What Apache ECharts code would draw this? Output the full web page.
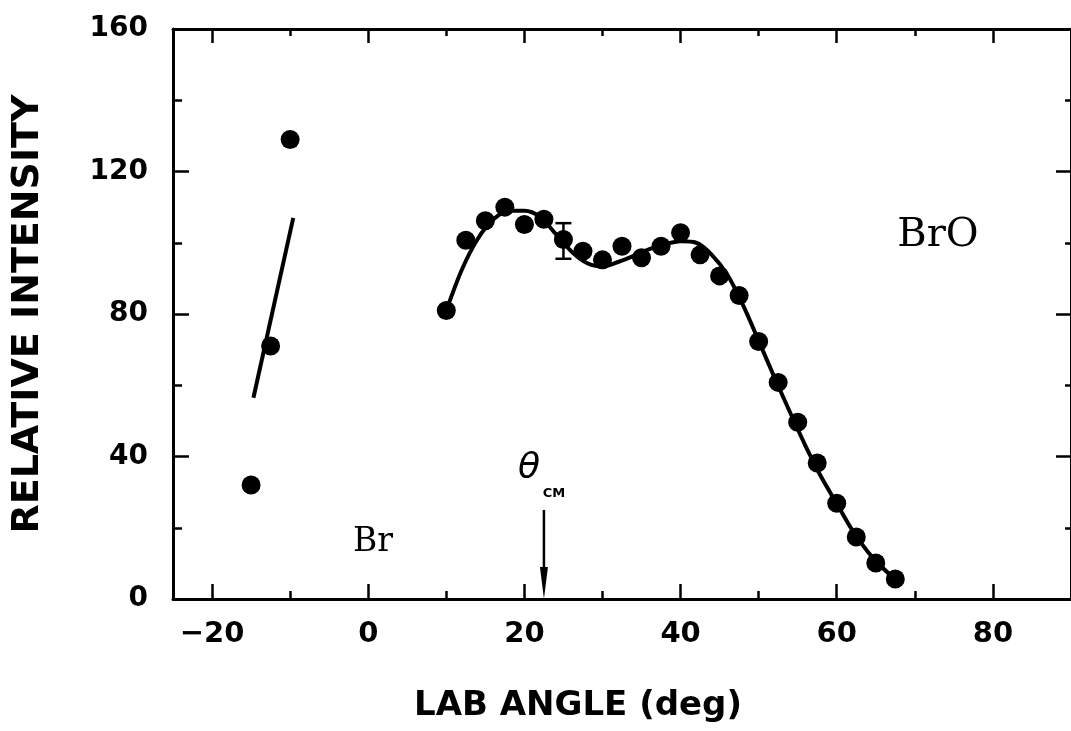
<!DOCTYPE html>
<html>
<head>
<meta charset="utf-8">
<script src="https://cdn.jsdelivr.net/npm/echarts@6/dist/echarts.min.js"></script>
<style>
html,body{margin:0;padding:0;background:#fff;}
#chart{width:1071px;height:731px;}
</style>
</head>
<body>
<div id="chart"></div>
<script>
// ---- data ----
const xMajorTicks = [-20, 0, 20, 40, 60, 80];
const xMinorTicks = [-10, 10, 30, 50, 70];

// BrO measured points (lab angle, relative intensity)
const broAngles = [10, 12.5, 15, 17.5, 20, 22.5, 25, 27.5, 30, 32.5, 35, 37.5, 40, 42.5, 45, 47.5, 50, 52.5, 55, 57.5, 60, 62.5, 65, 67.5];
const broValues = [81, 100.7, 106.2, 110, 105.1, 106.6, 100.9, 97.6, 95.2, 99, 95.8, 99, 102.8, 96.6, 90.7, 85.2, 72.3, 60.8, 49.6, 38.2, 26.9, 17.4, 10.1, 5.6];

// BrO fitted curve
const fitAngles = [10, 12, 14, 16, 18, 20, 22, 24, 26, 28, 30, 32, 34, 36, 38, 40, 42, 44, 46, 48, 50, 52, 54, 56, 58, 60, 62, 64, 66, 67.5];
const fitValues = [81, 92.5, 101, 106.5, 109, 109, 107.3, 102.5, 97.6, 94.3, 93.3, 94.6, 96.3, 98.2, 99.6, 100.4, 100, 96.6, 91, 82.5, 72.5, 62.3, 52.5, 43, 34.3, 26.8, 19.3, 13.2, 8.5, 5.6];

// Br measured points
const brAngles = [-15, -12.5, -10];
const brValues = [32, 71, 129];

// Br fitted line
const brFitAngles = [-14.7, -9.6];
const brFitValues = [56.5, 107];

// representative error bar
const errAngle = [25];
const errLow = [95.5];
const errHigh = [105.5];

// theta_CM marker
const thetaCM = 22.5;
const arrowTop = 25;

const zip = (a, b) => a.map((v, i) => [v, b[i]]);

const chart = echarts.init(document.getElementById('chart'), null, {renderer: 'canvas'});

const sans = 'DejaVu Sans';
const serif = "'DejaVu Serif', 'Liberation Serif', serif";
const axisLine = {show: true, onZero: false, lineStyle: {color: '#000', width: 3}};
const tickStyle = {color: '#000', width: 2.5};

function xAx(pos, ticks, len, opts) {
  return Object.assign({
    type: 'value', gridIndex: 0, min: -25, max: 90, position: pos,
    axisLine: {show: false, onZero: false},
    axisTick: {show: true, inside: true, length: len, customValues: ticks, lineStyle: tickStyle},
    axisLabel: {show: false},
    splitLine: {show: false}
  }, opts || {});
}

const option = {
  backgroundColor: '#fff',
  animation: false,
  grid: {left: 173, top: 29, width: 901, height: 570, containLabel: false},
  xAxis: [
    xAx('bottom', xMajorTicks, 15, {
      axisLine: axisLine,
      axisLabel: {
        show: true, customValues: xMajorTicks, margin: 21,
        color: '#000', fontFamily: sans, fontWeight: 'bold', fontSize: 29,
        formatter: v => String(v).replace('-', '\u2212')
      },
      name: 'LAB ANGLE (deg)', nameLocation: 'middle', nameGap: 90,
      nameTextStyle: {color: '#000', fontFamily: sans, fontWeight: 'bold', fontSize: 34, padding: [0, 88, 0, 0]}
    }),
    xAx('bottom', xMinorTicks, 8),
    xAx('top', xMajorTicks, 14, {axisLine: axisLine}),
    xAx('top', xMinorTicks, 7)
  ],
  yAxis: [
    {
      type: 'value', min: 0, max: 160, interval: 40, position: 'left',
      axisLine: axisLine,
      axisTick: {show: true, inside: true, length: 16, lineStyle: tickStyle},
      minorTick: {show: true, splitNumber: 2, length: 9, lineStyle: tickStyle},
      axisLabel: {margin: 25, color: '#000', fontFamily: sans, fontWeight: 'bold', fontSize: 28},
      splitLine: {show: false},
      name: 'RELATIVE INTENSITY', nameLocation: 'middle', nameRotate: 90, nameGap: 126,
      nameTextStyle: {color: '#000', fontFamily: sans, fontWeight: 'bold', fontSize: 38}
    },
    {
      type: 'value', min: 0, max: 160, interval: 40, position: 'right',
      axisLine: axisLine,
      axisTick: {show: true, inside: true, length: 15, lineStyle: tickStyle},
      minorTick: {show: true, splitNumber: 2, length: 6, lineStyle: tickStyle},
      axisLabel: {show: false},
      splitLine: {show: false}
    }
  ],
  series: [
    {
      name: 'BrO fit', type: 'line', xAxisIndex: 0, yAxisIndex: 0,
      data: zip(fitAngles, fitValues), smooth: 0.3, showSymbol: false,
      lineStyle: {color: '#000', width: 4}, z: 2
    },
    {
      name: 'Br fit', type: 'line', xAxisIndex: 0, yAxisIndex: 0,
      data: zip(brFitAngles, brFitValues), showSymbol: false,
      lineStyle: {color: '#000', width: 4}, z: 2
    },
    {
      name: 'BrO', type: 'scatter', xAxisIndex: 0, yAxisIndex: 0,
      data: zip(broAngles, broValues), symbol: 'circle', symbolSize: 19,
      itemStyle: {color: '#000', opacity: 1}, z: 3
    },
    {
      name: 'Br', type: 'scatter', xAxisIndex: 0, yAxisIndex: 0,
      data: zip(brAngles, brValues), symbol: 'circle', symbolSize: 19,
      itemStyle: {color: '#000', opacity: 1}, z: 3
    },
    {
      name: 'error', type: 'custom', xAxisIndex: 0, yAxisIndex: 0,
      data: errAngle.map((a, i) => [a, errLow[i], errHigh[i]]),
      encode: {x: 0, y: [1, 2]},
      renderItem: function (params, api) {
        const x = api.value(0);
        const lo = api.coord([x, api.value(1)]);
        const hi = api.coord([x, api.value(2)]);
        const st = {stroke: '#000', lineWidth: 2.5};
        return {type: 'group', children: [
          {type: 'line', shape: {x1: lo[0], y1: lo[1], x2: hi[0], y2: hi[1]}, style: st},
          {type: 'line', shape: {x1: lo[0] - 8, y1: lo[1], x2: lo[0] + 8, y2: lo[1]}, style: st},
          {type: 'line', shape: {x1: hi[0] - 8, y1: hi[1], x2: hi[0] + 8, y2: hi[1]}, style: st}
        ]};
      },
      z: 4
    },
    {
      name: 'thetaCM', type: 'custom', xAxisIndex: 0, yAxisIndex: 0,
      data: [[thetaCM, arrowTop, 0]],
      encode: {x: 0, y: [1, 2]},
      renderItem: function (params, api) {
        const x = api.value(0);
        const top = api.coord([x, api.value(1)]);
        const bot = api.coord([x, api.value(2)]);
        return {type: 'group', children: [
          {type: 'line', shape: {x1: top[0], y1: top[1], x2: bot[0], y2: bot[1] - 28}, style: {stroke: '#000', lineWidth: 2.5}},
          {type: 'polygon', shape: {points: [[bot[0] - 4, bot[1] - 32], [bot[0] + 4, bot[1] - 32], [bot[0], bot[1]]]}, style: {fill: '#000'}},
          {type: 'text', x: top[0] - 15, y: top[1] - 41, style: {text: '\u03b8', fill: '#000', fontFamily: sans, fontStyle: 'italic', fontSize: 36, align: 'center', verticalAlign: 'middle'}},
          {type: 'text', x: top[0] + 10, y: top[1] - 16, style: {text: 'CM', fill: '#000', fontFamily: sans, fontWeight: 'bold', fontSize: 13, align: 'center', verticalAlign: 'middle'}}
        ]};
      },
      z: 4
    }
  ],
  graphic: [
    {type: 'text', x: 938, y: 236, style: {text: 'BrO', fill: '#000', fontFamily: serif, fontSize: 40, align: 'center', verticalAlign: 'middle'}},
    {type: 'text', x: 373, y: 542, style: {text: 'Br', fill: '#000', fontFamily: serif, fontSize: 33, align: 'center', verticalAlign: 'middle'}}
  ]
};

chart.setOption(option);
</script>
</body>
</html>
